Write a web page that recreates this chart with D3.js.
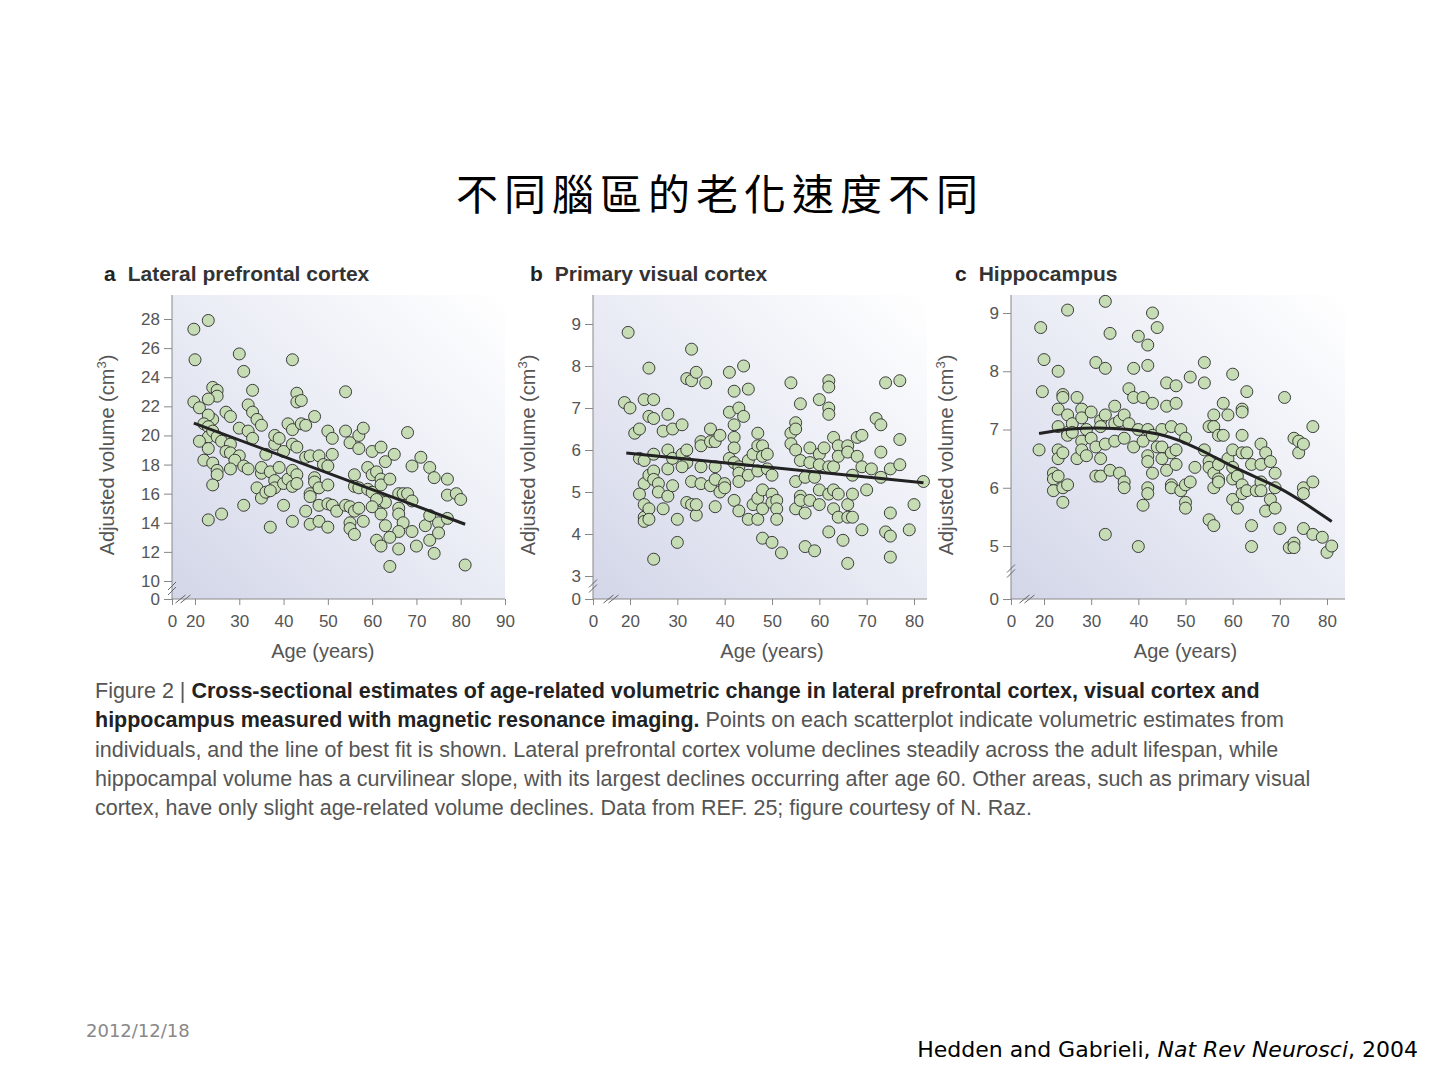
<!DOCTYPE html>
<html><head><meta charset="utf-8">
<script src="https://cdn.jsdelivr.net/npm/d3@7"></script>
<style>
body{margin:0;background:#fff;}
svg text{font-family:"Liberation Sans",Arial,sans-serif;}
</style></head>
<body>
<svg id="chart" width="1440" height="1080"></svg>
<script>
// ---- data (age, volume) ----
const prefrontalPts = [[19,27.3],[23,27.9],[20,25.2],[30,25.6],[31,24.4],[42,25.2],[54,23],[24,23.3],[25,23.1],[25,22.7],[23,22.5],[19,22.3],[21,21.9],[33,23.1],[43,22.9],[43,22.3],[44,22.4],[32,22.1],[33,21.6],[34,21.1],[35,20.7],[27,21.6],[28,21.3],[24,21.1],[23,21.4],[22,20.8],[23,20.6],[41,20.8],[42,20.4],[44,20.8],[45,20.7],[47,21.3],[30,20.5],[32,20.3],[33,19.8],[23,19.9],[24,20.3],[25,19.9],[26,19.6],[21,19.6],[23,19.1],[28,19.4],[27,18.9],[28,18.8],[30,18.6],[22,18.3],[24,18.1],[25,17.6],[25,17.3],[29,18.3],[31,17.9],[32,17.7],[28,17.7],[24,16.6],[23,14.2],[26,14.6],[31,15.2],[34,16.4],[35,15.7],[36,16.1],[35,17.4],[35,17.8],[36,18.7],[37,17.5],[38,19.4],[38,20],[39,19.8],[39,17.8],[40,18.9],[38,16.9],[38,16.4],[37,16.2],[40,16.7],[41,17],[42,16.5],[42,17.6],[43,17.3],[43,16.7],[42,19.4],[43,19.2],[40,15.2],[42,14.1],[37,13.7],[45,18.5],[46,18.6],[48,18.6],[49,18],[50,17.9],[51,18.7],[50,20.3],[51,19.8],[46,16],[46,15.8],[47,17.1],[47,16.8],[48,16.4],[50,16.6],[48,15.2],[50,15.3],[51,15.2],[52,14.8],[45,14.8],[46,13.9],[48,14.1],[50,13.7],[54,20.3],[55,19.5],[57,20],[57,19.1],[58,20.5],[56,17.3],[56,16.5],[57,16.4],[54,15.2],[55,15.1],[56,14.8],[57,15],[55,14],[55,13.6],[56,13.2],[58,14.1],[59,17.8],[59,16.3],[60,16.1],[60,17.3],[60,18.9],[62,19.2],[61,17.5],[62,17],[62,16.6],[62,15.5],[63,15.4],[61,15.6],[60,15.1],[61,12.8],[62,12.4],[62,14.6],[63,13.8],[63,18.2],[64,17],[65,18.7],[66,16],[67,16],[68,16],[68,20.2],[69,17.9],[69,15.5],[66,15],[66,14.6],[67,14],[66,13.4],[64,13],[64,11],[66,12.2],[69,13.4],[70,12.4],[71,18.5],[73,17.8],[74,17.1],[72,13.8],[73,14.5],[73,12.8],[74,11.9],[75,14],[75,13.3],[77,17],[77,15.9],[77,14.3],[79,16],[80,15.6],[81,11.1]];
const prefrontalFit = [[19,20.85],[81,13.9]];

const visualPts = [[17,7.13],[19,8.8],[20,7],[21,6.4],[22,6.5],[23,7.2],[24,7.95],[24,6.8],[25,7.2],[25,6.75],[22,5.8],[23,5.75],[25,5.9],[23,5.2],[22,4.95],[24,5.4],[25,5.5],[25,5.3],[26,5.2],[26,5],[23,4.7],[23,4.4],[23,4.3],[24,4.6],[24,4.35],[25,3.4],[27,4.6],[27,6.45],[28,6.85],[28,6],[28,5.55],[28,4.9],[29,6.5],[29,5.8],[29,5.15],[30,4.35],[30,3.8],[31,6.6],[31,5.9],[32,5.7],[32,6],[31,5.6],[32,4.75],[33,5.25],[33,4.7],[34,4.45],[34,4.7],[32,7.7],[33,7.65],[34,7.85],[33,8.4],[36,7.6],[35,6.2],[35,6.1],[37,6.5],[37,6.2],[38,6.2],[39,6.35],[35,5.6],[35,5.2],[37,5.15],[38,5.6],[38,5.3],[39,5],[40,5.2],[40,5.1],[38,4.65],[41,7.85],[41,6.9],[42,7.4],[42,6.6],[42,6.3],[42,6.05],[43,7],[44,6.8],[44,8],[45,7.45],[41,5.8],[42,5.7],[43,5.6],[43,5.45],[43,5.25],[42,4.8],[43,4.55],[45,5.75],[45,5.4],[45,4.35],[46,5.9],[47,6.4],[47,6.1],[47,5.5],[48,6.1],[48,5.85],[49,5.9],[46,4.7],[47,4.85],[47,4.35],[48,5.05],[48,4.6],[48,3.9],[49,5.55],[50,5.4],[50,4.95],[50,4.75],[51,4.8],[51,4.6],[51,4.35],[50,3.8],[52,3.55],[54,7.6],[54,6.4],[54,6.15],[55,6.65],[55,6.5],[55,6],[56,7.1],[56,5.75],[55,5.25],[56,4.9],[55,4.6],[56,4.8],[57,4.5],[57,5.35],[57,3.7],[58,6.05],[58,5.7],[58,4.8],[59,5.35],[59,3.6],[60,7.2],[60,5.9],[60,5.65],[60,5.05],[60,4.7],[62,7.65],[62,7.5],[62,7],[62,6.85],[61,6.05],[62,5.6],[63,6.3],[63,5.6],[62,4.95],[62,4.05],[63,5.05],[63,4.6],[64,6.1],[64,5.85],[64,4.95],[64,4.4],[65,3.85],[66,6.1],[66,5.95],[66,4.7],[66,4.4],[67,4.4],[66,3.3],[67,5.4],[67,4.95],[68,6.3],[68,5.85],[69,6.35],[69,5.6],[69,4.1],[70,5.05],[71,5.55],[72,6.75],[73,6.6],[73,5.95],[73,5.35],[74,7.6],[74,4.05],[75,5.55],[75,3.95],[75,4.5],[75,3.45],[77,7.65],[77,6.25],[77,5.65],[79,4.1],[80,4.7],[82,5.25]];
const visualFit = [[18,5.93],[82,5.22]];

const hippoPts = [[17,6.65],[18,8.75],[19,7.65],[20,8.2],[22,6.25],[22,6.15],[22,5.95],[23,8],[23,7.35],[23,7.05],[23,6.65],[23,6.5],[23,6.2],[24,7.6],[24,7.55],[24,6.6],[24,6],[24,5.75],[25,9.05],[25,7.25],[25,6.95],[25,6.9],[25,6.05],[26,7.1],[26,6.95],[27,7.55],[27,6.5],[28,7.35],[28,7.2],[28,6.8],[28,6.65],[29,7],[29,6.55],[30,7.3],[30,6.85],[31,8.15],[31,6.7],[31,6.2],[32,7.15],[32,7.05],[32,6.5],[32,6.2],[33,9.2],[33,8.05],[33,7.25],[33,6.75],[33,5.2],[34,8.65],[34,6.3],[35,7.4],[35,7.1],[35,6.8],[36,7.15],[36,6.25],[37,7.25],[37,6.85],[37,6.1],[37,6],[38,7.7],[38,7.1],[39,8.05],[39,7.55],[39,6.7],[40,8.6],[40,7],[40,4.95],[41,7.55],[41,6.8],[41,5.7],[42,8.45],[42,8.1],[42,7],[42,6.55],[42,6.45],[42,6],[42,5.9],[43,9],[43,7.45],[43,6.9],[43,6.25],[44,8.75],[44,6.7],[45,7],[45,6.7],[45,6.5],[46,7.8],[46,7.4],[46,6.3],[47,7.05],[47,6.6],[47,6.05],[47,6],[48,7.75],[48,7.45],[48,6.65],[48,6.4],[49,7],[49,5.95],[50,6.85],[50,6.05],[50,5.75],[50,5.65],[51,7.9],[51,6.1],[52,6.35],[54,8.15],[54,7.8],[54,6.65],[55,7.05],[55,6.45],[55,6.35],[55,5.45],[56,7.25],[56,7.05],[56,6.25],[56,6],[56,5.35],[57,6.9],[57,6.4],[57,6.15],[57,6.1],[58,7.45],[58,6.9],[59,7.25],[59,6.5],[60,7.95],[60,6.65],[60,6.35],[60,6.15],[60,5.8],[61,6.2],[61,5.65],[62,7.35],[62,7.3],[62,6.9],[62,6.6],[62,6.05],[62,5.9],[63,7.65],[63,6.6],[63,5.95],[64,6.4],[64,5.35],[64,4.95],[65,5.95],[66,6.75],[66,6.4],[66,6.1],[66,5.95],[67,6.6],[67,5.6],[68,6.45],[68,5.8],[69,6.25],[69,6],[69,5.65],[70,5.3],[71,7.55],[72,4.85],[73,6.85],[73,5.05],[73,4.85],[74,6.6],[74,6.8],[75,6.75],[75,6],[75,5.9],[75,5.3],[77,7.05],[77,6.1],[77,5.2],[79,5.15],[80,4.4],[81,5]];
const hippoFit = [[17,6.93],[25,7.02],[35,7.04],[45,6.93],[50,6.77],[55,6.58],[60,6.36],[65,6.18],[70,6.0],[75,5.75],[81,5.42]];

const prefrontalYTicks = [0,10,12,14,16,18,20,22,24,26,28];
const visualYTicks = [0,3,4,5,6,7,8,9];
const hippoYTicks = [0,5,6,7,8,9];
const xTicksA = [0,20,30,40,50,60,70,80,90];
const xTicksBC = [0,20,30,40,50,60,70,80];

const panels = [
  {letter:"a", name:"Lateral prefrontal cortex", pts:prefrontalPts, fit:prefrontalFit, curve:d3.curveLinear,
   x0:172, x20:195, xMax:90, xRight:505, yD:[0,10,28], yR:[599,581,319], yTicks:prefrontalYTicks, xTicks:xTicksA, bgRight:505, titleX:104},
  {letter:"b", name:"Primary visual cortex", pts:visualPts, fit:visualFit, curve:d3.curveLinear,
   x0:593, x20:630, xMax:80, xRight:914, yD:[0,3,9], yR:[599,576,324], yTicks:visualYTicks, xTicks:xTicksBC, bgRight:927, titleX:530},
  {letter:"c", name:"Hippocampus", pts:hippoPts, fit:hippoFit, curve:d3.curveBasis,
   x0:1011, x20:1044, xMax:80, xRight:1327, yD:[0,5,9], yR:[599,546,313], yTicks:hippoYTicks, xTicks:xTicksBC, bgRight:1345, titleX:955}
];

const svg = d3.select("#chart");
const defs = svg.append("defs");
const grad = defs.append("linearGradient").attr("id","bg")
  .attr("x1","0").attr("y1","1").attr("x2","1").attr("y2","0");
grad.append("stop").attr("offset","0").attr("stop-color","#d3d6e8");
grad.append("stop").attr("offset","0.55").attr("stop-color","#eceef6");
grad.append("stop").attr("offset","1").attr("stop-color","#ffffff");

// title
svg.append("text").attr("x",720).attr("y",210).attr("text-anchor","middle")
  .style("font-family","'Noto Sans CJK TC','Noto Sans CJK SC',sans-serif")
  .style("font-size","42px").style("letter-spacing","6px").attr("fill","#000")
  .text("不同腦區的老化速度不同");

panels.forEach(p => {
  const x = d3.scaleLinear().domain([0,20,p.xMax]).range([p.x0,p.x20,p.xRight]);
  const y = d3.scaleLinear().domain(p.yD).range(p.yR);
  const top = 295, bottom = 599;
  const g = svg.append("g");

  g.append("rect").attr("x",p.x0).attr("y",top).attr("width",p.bgRight-p.x0).attr("height",bottom-top)
    .attr("fill","url(#bg)");

  // panel title
  const t = g.append("text").attr("x",p.titleX).attr("y",281).style("font-size","21px").attr("fill","#222");
  t.append("tspan").style("font-weight","bold").text(p.letter);
  t.append("tspan").attr("dx",12).style("font-weight","bold").attr("fill","#333").text(p.name);

  // axes
  g.append("g").attr("transform",`translate(${p.x0},0)`)
    .call(d3.axisLeft(y).tickValues(p.yTicks).tickSize(8).tickSizeOuter(0).tickPadding(4))
    .call(a => a.select(".domain").attr("d",`M0,${top}V${bottom}`))
    .call(a => a.selectAll("line,path").attr("stroke","#888"))
    .call(a => a.selectAll("text").style("font-size","17px").attr("fill","#555"));
  g.append("g").attr("transform",`translate(0,${bottom})`)
    .call(d3.axisBottom(x).tickValues(p.xTicks).tickSize(6).tickSizeOuter(0).tickPadding(10))
    .call(a => a.select(".domain").attr("d",`M${p.x0},0H${p.bgRight}`))
    .call(a => a.selectAll("line,path").attr("stroke","#888"))
    .call(a => a.selectAll("text").style("font-size","17px").attr("fill","#555"));

  // axis breaks
  const yb = (y(p.yD[0]) + y(p.yD[1]))/2 + 1;
  [-4,1].forEach(o => g.append("line").attr("x1",p.x0-4).attr("y1",yb+o+3).attr("x2",p.x0+4).attr("y2",yb+o-5)
    .attr("stroke","#666").attr("stroke-width",1));
  const xb = (x(0)+x(20))/2;
  [-3,2].forEach(o => g.append("line").attr("x1",xb+o-5).attr("y1",bottom+4).attr("x2",xb+o+5).attr("y2",bottom-4)
    .attr("stroke","#666").attr("stroke-width",1));

  // axis labels
  g.append("text").attr("transform",`translate(${p.x0-58},${(top+bottom)/2+8}) rotate(-90)`)
    .attr("text-anchor","middle").style("font-size","20px").attr("fill","#555")
    .html('Adjusted volume (cm<tspan dy="-8" font-size="13">3</tspan><tspan dy="8">)</tspan>');
  g.append("text").attr("x",(x(20)+x(80))/2 + (p.xMax===90?-5:0)).attr("y",658).attr("text-anchor","middle")
    .style("font-size","20px").attr("fill","#555").text("Age (years)");

  // points
  g.append("g").selectAll("circle").data(p.pts).join("circle")
    .attr("cx",d => x(d[0])).attr("cy",d => y(d[1])).attr("r",6)
    .attr("fill","#c6dcb4").attr("stroke","#2b2b2b").attr("stroke-width",0.9);

  // fit line
  g.append("path").datum(p.fit)
    .attr("d", d3.line().curve(p.curve).x(d => x(d[0])).y(d => y(d[1])))
    .attr("fill","none").attr("stroke","#222").attr("stroke-width",3);
});

// caption
const capLines = [
  [["Figure 2 | ","n"],["Cross-sectional estimates of age-related volumetric change in lateral prefrontal cortex, visual cortex and","b"]],
  [["hippocampus measured with magnetic resonance imaging.","b"],[" Points on each scatterplot indicate volumetric estimates from","n"]],
  [["individuals, and the line of best fit is shown. Lateral prefrontal cortex volume declines steadily across the adult lifespan, while","n"]],
  [["hippocampal volume has a curvilinear slope, with its largest declines occurring after age 60. Other areas, such as primary visual","n"]],
  [["cortex, have only slight age-related volume declines. Data from REF. 25; figure courtesy of N. Raz.","n"]]
];
capLines.forEach((line,i) => {
  const t = svg.append("text").attr("x",95).attr("y",698+i*29.3).style("font-size","21.5px");
  line.forEach(([s,w]) => t.append("tspan").text(s)
    .attr("fill", w==="b" ? "#222" : "#555").style("font-weight", w==="b" ? "bold" : "normal"));
});

svg.append("text").attr("x",86).attr("y",1037).style("font-family","'DejaVu Sans',sans-serif")
  .style("font-size","18px").attr("fill","#888").text("2012/12/18");
const cite = svg.append("text").attr("x",1418).attr("y",1057).attr("text-anchor","end")
  .style("font-family","'DejaVu Sans',sans-serif").style("font-size","22px").attr("fill","#000");
cite.append("tspan").text("Hedden and Gabrieli, ");
cite.append("tspan").style("font-style","italic").text("Nat Rev Neurosci");
cite.append("tspan").text(", 2004");
</script>
</body></html>
